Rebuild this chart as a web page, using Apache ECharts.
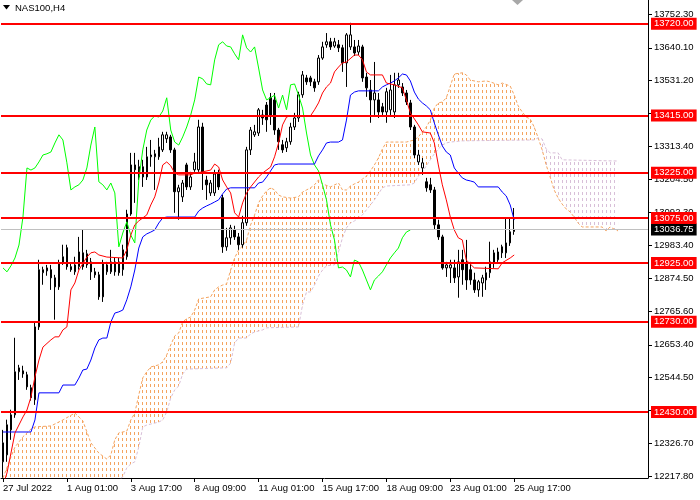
<!DOCTYPE html>
<html><head><meta charset="utf-8">
<script src="https://cdn.jsdelivr.net/npm/echarts@6/dist/echarts.min.js"></script>
<style>html,body{margin:0;padding:0;background:#fff}#c{width:700px;height:500px}</style>
</head><body><div id="c"></div>
<script>
const chartTitle = 'NAS100,H4';
const xTickLabels = ['27 Jul 2022','1 Aug 01:00','3 Aug 17:00','8 Aug 09:00','11 Aug 01:00','15 Aug 17:00','18 Aug 09:00','23 Aug 01:00','25 Aug 17:00'];
const barsPerTick = 16;
const slotCount = 162;
const yTickLabels = ['13752.30','13640.10','13531.20','13422.30','13313.40','13204.50','13092.30','12983.40','12874.50','12765.60','12653.40','12544.50','12435.60','12326.70','12217.80'];
const yMin = 12211.2, yMax = 13798.8;
const levels = [13720, 13415, 13225, 13075, 12925, 12730, 12430];
const lastPrice = 13036.75;

const opens = [12265,12288,12371,12421,12564,12567,12554,12511,12471,12713,
12893,12899,12903,12876,12846,12926,12976,12913,12896,12913,
12959,12919,12929,12896,12886,12926,12896,12896,12929,12929,
12903,12946,13088,13251,13245,13211,13211,13278,13278,13278,
13301,13338,13344,13301,13162,13145,13251,13178,13235,13235,
13377,13201,13158,13158,13221,13142,12979,13009,13035,13012,
12986,13059,13301,13351,13357,13417,13450,13474,13467,13367,
13318,13308,13328,13377,13407,13484,13540,13540,13527,13527,
13606,13650,13660,13646,13650,13640,13590,13643,13643,13626,
13643,13543,13500,13467,13467,13444,13427,13434,13427,13517,
13510,13490,13457,13377,13261,13241,13195,13185,13168,13052,
13012,12909,12909,12909,12879,12936,12926,12903,12869,12836,
12859,12869,12893,12926,12936,12979,12959,12992,13030];
const closes = [12328,12388,12421,12564,12577,12557,12514,12478,12713,12903,
12903,12909,12876,12846,12926,12946,12913,12903,12919,12962,
12913,12956,12896,12886,12813,12813,12919,12929,12896,12893,
12969,13088,13251,13235,13211,13245,13278,13284,13288,13311,
13351,13351,13301,13162,13175,13191,13178,13211,13261,13377,
13225,13185,13191,13221,13178,12979,13009,13042,13012,12986,
13059,13301,13367,13361,13434,13407,13401,13417,13367,13328,
13301,13328,13377,13407,13484,13550,13527,13527,13507,13606,
13643,13660,13643,13660,13640,13590,13683,13683,13623,13646,
13540,13507,13467,13490,13427,13427,13494,13500,13517,13533,
13490,13460,13377,13284,13284,13258,13175,13168,13052,13012,
12909,12919,12919,12876,12929,12903,12869,12869,12836,12863,
12876,12893,12929,12959,12962,12959,12992,13029,13036.75];
const highs = [12371,12405,12438,12677,12587,12584,12564,12521,12727,12936,
12913,12919,12919,12886,12936,12986,12986,12926,12946,13012,
13035,12969,12942,12909,12896,12936,12929,12969,12942,12942,
12986,13102,13291,13291,13268,13268,13311,13334,13301,13341,
13361,13361,13351,13308,13185,13201,13258,13228,13291,13401,
13391,13215,13201,13235,13235,13152,13042,13052,13049,13025,
13082,13311,13377,13384,13440,13434,13460,13490,13490,13374,
13334,13341,13391,13424,13494,13563,13550,13547,13537,13616,
13660,13689,13673,13673,13666,13650,13689,13723,13666,13666,
13650,13557,13533,13593,13490,13457,13507,13550,13557,13557,
13523,13500,13467,13384,13301,13274,13208,13208,13178,13069,
13019,12929,12936,12936,12969,12969,13002,12929,12893,12869,
12886,12913,12996,12969,12976,12986,13075,13075,13108];
const lows = [12212,12265,12338,12411,12537,12544,12504,12468,12454,12703,
12853,12883,12836,12737,12836,12919,12903,12896,12886,12903,
12903,12909,12869,12876,12803,12796,12886,12889,12883,12883,
12883,12936,13082,13125,13201,13178,13201,13245,13168,13268,
13294,13324,13291,13092,13069,13128,13168,13168,13228,13228,
13168,13135,13148,13148,13168,12959,12966,12986,13002,12969,
12976,13049,13284,13344,13347,13384,13361,13384,13351,13301,
13291,13294,13318,13367,13394,13474,13517,13513,13494,13517,
13600,13640,13633,13640,13626,13560,13510,13633,13613,13616,
13527,13477,13391,13417,13407,13417,13391,13417,13407,13507,
13480,13450,13367,13274,13251,13218,13162,13158,13035,13002,
12903,12879,12859,12859,12810,12853,12836,12853,12826,12813,
12813,12836,12876,12909,12929,12942,12942,12982,13019];

const tenkan = [[0,12188],[1,12228],[3,12361],[5,12414],[6,12437],[7,12480],[8,12547],[9,12603],[10,12646],[12,12670],[13,12680],[14,12680],[15,12703],[16,12713],[17,12836],[18,12859],[19,12902],[21,12945],[22,12959],[23,12962],[24,12952],[26,12945],[30,12942],[31,12969],[32,13018],[33,13052],[34,13065],[35,13075],[36,13085],[37,13118],[38,13145],[39,13191],[40,13251],[41,13261],[42,13248],[43,13224],[44,13218],[47,13218],[48,13224],[50,13228],[52,13234],[53,13254],[54,13244],[55,13201],[56,13178],[57,13158],[58,13092],[59,13078],[60,13125],[61,13158],[62,13178],[64,13211],[65,13224],[67,13244],[68,13278],[69,13324],[70,13384],[71,13410],[72,13414],[77,13414],[78,13434],[79,13457],[80,13490],[81,13510],[82,13523],[83,13560],[84,13576],[85,13590],[86,13593],[88,13616],[89,13616],[90,13600],[91,13560],[92,13550],[95,13550],[96,13523],[98,13517],[100,13507],[101,13467],[102,13424],[104,13384],[105,13361],[107,13357],[108,13324],[109,13251],[110,13185],[111,13135],[112,13078],[113,13035],[114,13009],[115,13002],[116,12935],[118,12909],[124,12906],[125,12926],[127,12942],[128,12952]];
const kijun = [[0,12364],[7,12364],[8,12404],[9,12494],[14,12494],[15,12520],[18,12520],[19,12543],[20,12570],[21,12573],[22,12603],[23,12643],[24,12670],[25,12676],[26,12676],[27,12729],[28,12759],[29,12763],[30,12769],[31,12803],[32,12846],[33,12902],[34,12975],[35,13012],[36,13022],[37,13028],[38,13035],[39,13058],[40,13075],[41,13078],[48,13078],[49,13098],[50,13108],[51,13115],[52,13121],[53,13128],[54,13135],[55,13155],[56,13171],[57,13175],[63,13175],[64,13191],[65,13194],[66,13211],[67,13231],[68,13251],[69,13254],[78,13254],[79,13281],[80,13301],[81,13324],[82,13327],[84,13327],[85,13334],[86,13400],[87,13483],[88,13493],[89,13497],[94,13497],[95,13510],[96,13517],[97,13523],[98,13530],[99,13540],[100,13553],[101,13550],[102,13530],[103,13493],[104,13470],[105,13457],[106,13447],[107,13434],[108,13390],[109,13351],[110,13314],[111,13294],[112,13284],[113,13241],[114,13224],[115,13208],[116,13201],[117,13198],[118,13194],[119,13178],[124,13178],[125,13161],[126,13148],[127,13118],[128,13068]];
const chikou = [12909,12896,12916,12942,12985,13078,13241,13234,13241,13261,
13284,13288,13294,13324,13351,13334,13258,13168,13178,13185,
13201,13241,13317,13377,13195,13185,13168,13191,13158,12979,
13025,13062,13018,12992,13201,13301,13367,13400,13414,13410,
13430,13474,13367,13327,13317,13344,13377,13417,13467,13543,
13537,13520,13517,13600,13650,13660,13646,13643,13620,13600,
13683,13640,13626,13643,13573,13500,13467,13474,13483,13440,
13483,13434,13517,13520,13483,13440,13357,13284,13251,13231,
13185,13135,13052,13002,12909,12912,12902,12879,12935,12929,
12902,12869,12836,12869,12882,12896,12919,12942,12959,12975,
13009,13028,13035];
const spanA = [[0,12211],[2,12281],[3,12314],[5,12348],[7,12374],[8,12381],[12,12384],[15,12404],[18,12427],[20,12401],[22,12328],[24,12294],[26,12274],[27,12288],[28,12338],[29,12361],[31,12367],[32,12404],[33,12427],[34,12487],[35,12544],[36,12564],[37,12580],[39,12587],[40,12597],[41,12620],[42,12653],[43,12683],[44,12693],[45,12730],[46,12740],[47,12746],[48,12769],[49,12806],[52,12813],[53,12836],[54,12846],[55,12852],[56,12856],[57,12902],[58,12942],[59,12969],[60,12982],[61,13002],[62,13052],[63,13085],[64,13125],[65,13148],[66,13165],[67,13175],[68,13168],[69,13151],[70,13145],[72,13141],[74,13145],[75,13161],[76,13168],[77,13175],[78,13185],[79,13201],[80,13188],[82,13178],[84,13191],[85,13168],[86,13168],[87,13181],[88,13188],[89,13194],[90,13204],[91,13214],[92,13231],[93,13251],[94,13274],[95,13304],[96,13327],[101,13327],[103,13334],[104,13344],[105,13361],[106,13377],[107,13400],[108,13440],[109,13457],[110,13460],[111,13474],[112,13513],[113,13553],[115,13557],[116,13550],[117,13533],[119,13527],[121,13530],[122,13527],[124,13517],[125,13523],[127,13513],[128,13483],[129,13447],[130,13427],[131,13410],[132,13404],[133,13377],[134,13341],[135,13301],[136,13251],[137,13211],[138,13168],[139,13141],[140,13121],[141,13105],[142,13095],[143,13078],[144,13058],[145,13045],[150,13045],[151,13032],[152,13045],[153,13038],[154,13032]];
const spanB = [[0,12072],[15,12138],[29,12205],[30,12215],[31,12245],[32,12258],[33,12265],[34,12314],[35,12381],[36,12387],[39,12397],[40,12404],[41,12431],[42,12477],[43,12504],[44,12517],[45,12557],[46,12573],[56,12577],[57,12593],[58,12660],[59,12676],[61,12676],[62,12690],[63,12696],[65,12703],[66,12710],[74,12713],[75,12786],[76,12829],[77,12829],[78,12852],[79,12882],[80,12902],[81,12916],[83,12919],[84,12962],[85,13009],[86,13042],[87,13058],[88,13065],[89,13075],[90,13085],[91,13102],[92,13118],[93,13135],[95,13175],[96,13181],[102,13185],[103,13191],[104,13214],[105,13228],[106,13248],[107,13268],[108,13288],[109,13304],[110,13317],[111,13324],[112,13327],[115,13331],[133,13334],[134,13341],[135,13337],[136,13304],[137,13291],[139,13291],[140,13268],[154,13264]];
const kumoCross = 134;

const FONT = 'Liberation Sans, Arial, sans-serif';
const yTickValues = yTickLabels.map(Number);
const categories = Array.from({length: slotCount}, (_, i) => String(i));
const lastBar = opens.length - 1;
const candleData = opens.map((o, i) => [o, closes[i], lows[i], highs[i]]);

function hatch(color) {
  const c = document.createElement('canvas');
  c.width = 4; c.height = 6;
  const ctx = c.getContext('2d');
  ctx.fillStyle = color;
  ctx.fillRect(2, 0, 1, 3);
  return { image: c, repeat: 'repeat' };
}
const orangeHatch = hatch('#F4A460');
const thistleHatch = hatch('#D8BFD8');

const tickShow = (idx) => idx % barsPerTick === 0 && idx <= lastBar;

const chart = echarts.init(document.getElementById('c'), null, {renderer: 'canvas'});
chart.setOption({
  animation: false,
  backgroundColor: '#fff',
  grid: {left: -1, right: 52, top: 0, bottom: 22, containLabel: false},
  xAxis: {
    type: 'category', data: categories, boundaryGap: true,
    axisLine: {show: true, lineStyle: {color: '#000', width: 1}},
    axisTick: {show: true, alignWithLabel: true, interval: tickShow, length: 4, lineStyle: {color: '#000'}},
    axisLabel: {interval: tickShow, formatter: (v, idx) => xTickLabels[Math.round(idx / barsPerTick)] || '',
      align: 'left', margin: 5, color: '#000', fontSize: 9.5, fontFamily: FONT},
    splitLine: {show: false}
  },
  yAxis: {
    type: 'value', position: 'right', min: yMin, max: yMax,
    axisLine: {show: true, lineStyle: {color: '#000', width: 1}},
    axisTick: {show: true, length: 4, lineStyle: {color: '#000'}, customValues: yTickValues},
    axisLabel: {customValues: yTickValues, margin: 6, color: '#000', fontSize: 9.5, fontFamily: FONT,
      formatter: (v) => { const k = yTickValues.findIndex(t => Math.abs(t - v) < 0.01); return k >= 0 ? yTickLabels[k] : ''; }},
    splitLine: {show: false}
  },
  graphic: [
    {type: 'polygon', shape: {points: [[3, 5], [10, 5], [6.5, 9.5]]}, style: {fill: '#000'}, z: 100},
    {type: 'text', x: 15, y: 8, style: {text: chartTitle, fill: '#000', fontSize: 9.5, fontFamily: FONT, verticalAlign: 'middle'}, z: 100},
    {type: 'polygon', shape: {points: [[512, 0], [523, 0], [517.5, 5]]}, style: {fill: '#A8A8A8'}, z: 100}
  ],
  series: [
    {
      type: 'custom', z: 1, silent: true, clip: true,
      data: [[0, 13000], [1, 13000]],
      encode: {x: 0, y: 1},
      renderItem: (params, api) => {
        const k = params.dataIndex;
        let top, bottom, fill;
        if (k === 0) {
          top = spanA.filter(p => p[0] <= kumoCross);
          bottom = spanB.filter(p => p[0] <= kumoCross).slice().reverse();
          fill = orangeHatch;
        } else {
          top = spanB.filter(p => p[0] >= kumoCross);
          bottom = spanA.filter(p => p[0] >= kumoCross).slice().reverse();
          fill = thistleHatch;
        }
        const pts = top.concat(bottom).map(p => api.coord(p));
        const cs = params.coordSys;
        return {
          type: 'group',
          clipPath: {type: 'rect', shape: {x: cs.x, y: cs.y, width: cs.width, height: cs.height}},
          children: [{type: 'polygon', shape: {points: pts}, style: {fill: fill, stroke: null}}]
        };
      }
    },
    {type: 'line', name: 'Senkou A', data: spanA, symbol: 'none', z: 2, silent: true,
      lineStyle: {color: '#F4A460', width: 1, type: [3, 2]}},
    {type: 'line', name: 'Senkou B', data: spanB, symbol: 'none', z: 2, silent: true,
      lineStyle: {color: '#D8BFD8', width: 1, type: [3, 2]}},
    {type: 'line', data: [], z: 2, silent: true,
      markLine: {symbol: 'none', silent: true, animation: false,
        lineStyle: {color: '#C0C0C0', width: 1, type: 'solid'},
        label: {show: true, position: 'end', distance: 3, formatter: () => lastPrice.toFixed(2),
          color: '#fff', backgroundColor: '#000', padding: [1, 3, 0, 3], fontSize: 9.5, fontFamily: FONT, lineHeight: 11},
        data: [{yAxis: lastPrice}]}},
    {type: 'candlestick', data: candleData, barWidth: 2, z: 3, silent: true,
      itemStyle: {color: '#fff', color0: '#000', borderColor: '#000', borderColor0: '#000', borderWidth: 1}},
    {type: 'line', name: 'Chikou', data: chikou, symbol: 'none', z: 4, silent: true,
      lineStyle: {color: '#00FF00', width: 1}},
    {type: 'line', name: 'Kijun', data: kijun, symbol: 'none', z: 4, silent: true,
      lineStyle: {color: '#0000FF', width: 1}},
    {type: 'line', name: 'Tenkan', data: tenkan, symbol: 'none', z: 4, silent: true,
      lineStyle: {color: '#FF0000', width: 1}},
    {type: 'line', data: [], z: 6, silent: true,
      markLine: {symbol: 'none', silent: true, animation: false,
        lineStyle: {color: '#FF0000', width: 2, type: 'solid'},
        label: {show: true, position: 'end', distance: 3, formatter: (p) => Number(p.value).toFixed(2),
          color: '#fff', backgroundColor: '#FF0000', padding: [1, 3, 0, 3], fontSize: 9.5, fontFamily: FONT, lineHeight: 11},
        data: levels.map(v => ({yAxis: v}))}}
  ]
});
</script>
</body></html>
